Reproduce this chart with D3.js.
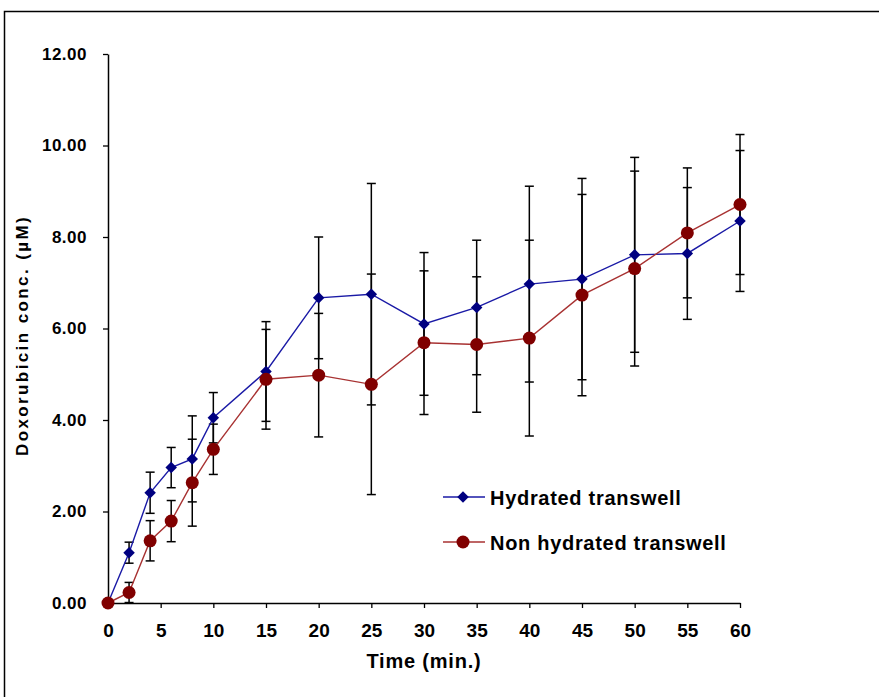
<!DOCTYPE html>
<html>
<head>
<meta charset="utf-8">
<script src="https://cdn.jsdelivr.net/npm/d3@7"></script>
<style>
  html, body { margin: 0; padding: 0; background: #fff; }
  svg { display: block; }
  text { font-family: "Liberation Sans", Arial, sans-serif; font-weight: bold; fill: #000; }
</style>
</head>
<body>
<svg id="chart" width="879" height="697"></svg>
<script>
// Sampling times (min)
const times = [0, 2, 4, 6, 8, 10, 15, 20, 25, 30, 35, 40, 45, 50, 55, 60];

// Doxorubicin concentration (µM), mean and standard deviation per time point
const hydratedMean = [0, 1.10, 2.41, 2.96, 3.15, 4.05, 5.06, 6.67, 6.75, 6.10, 6.46, 6.97, 7.08, 7.61, 7.64, 8.35];
const hydratedSD   = [0, 0.23, 0.45, 0.44, 0.94, 0.55, 1.09, 1.33, 2.42, 1.56, 1.47, 2.14, 2.20, 2.13, 1.44, 1.54];

const nonHydratedMean = [0, 0.23, 1.36, 1.79, 2.63, 3.36, 4.89, 4.98, 4.78, 5.69, 5.65, 5.79, 6.73, 7.31, 8.09, 8.71];
const nonHydratedSD   = [0, 0.22, 0.44, 0.45, 0.95, 0.55, 1.09, 1.35, 2.41, 1.57, 1.48, 2.14, 2.20, 2.13, 1.42, 1.53];

const xTicks = [0, 5, 10, 15, 20, 25, 30, 35, 40, 45, 50, 55, 60];
const yTicks = [0, 2, 4, 6, 8, 10, 12];

const seriesNames = ["Hydrated transwell", "Non hydrated transwell"];

// diamond = square turned 45°, circle for the second series
const diamond = d3.symbol().type(d3.symbolSquare).size(66);
const circle = d3.symbol().type(d3.symbolCircle).size(133);

const series = [
  { name: seriesNames[0], mean: hydratedMean, sd: hydratedSD, line: "#1a1aa6", fill: "#000080", shape: diamond, rot: 45 },
  { name: seriesNames[1], mean: nonHydratedMean, sd: nonHydratedSD, line: "#a83232", fill: "#800000", shape: circle, rot: 0 }
];

const svg = d3.select("#chart");

// outer frame
svg.append("rect")
  .attr("x", 4.5).attr("y", 11.5)
  .attr("width", 1000).attr("height", 1000)
  .attr("fill", "none").attr("stroke", "#000").attr("stroke-width", 1.5);

const x = d3.scaleLinear().domain([0, 60]).range([108, 740]);
const y = d3.scaleLinear().domain([0, 12]).range([603, 54]);

// x axis
const xAxis = svg.append("g")
  .attr("transform", `translate(0,${y(0)})`)
  .call(d3.axisBottom(x).tickValues(xTicks).tickFormat(d3.format("d")).tickSize(5).tickSizeOuter(0).tickPadding(16));
xAxis.select(".domain").attr("stroke", "#000").attr("stroke-width", 1.5);
xAxis.selectAll(".tick line").attr("stroke", "#000").attr("stroke-width", 1.3);
xAxis.selectAll(".tick text")
  .attr("font-size", 19).attr("font-family", "Liberation Sans, Arial, sans-serif").attr("font-weight", "bold");

// y axis
const yAxis = svg.append("g")
  .attr("transform", `translate(${x(0)},0)`)
  .call(d3.axisLeft(y).tickValues(yTicks).tickFormat(d3.format(".2f")).tickSize(5).tickSizeOuter(0).tickPadding(16));
yAxis.select(".domain").attr("stroke", "#000").attr("stroke-width", 1.5);
yAxis.selectAll(".tick line").attr("stroke", "#000").attr("stroke-width", 1.3);
yAxis.selectAll(".tick text")
  .attr("font-size", 17).attr("font-family", "Liberation Sans, Arial, sans-serif").attr("font-weight", "bold")
  .attr("letter-spacing", 0.5);

// axis titles
svg.append("text")
  .attr("x", 424).attr("y", 668)
  .attr("text-anchor", "middle").attr("font-size", 20)
  .attr("letter-spacing", 0.8)
  .text("Time (min.)");

svg.append("text")
  .attr("transform", `translate(28,${(y(0) + y(12)) / 2 + 7}) rotate(-90)`)
  .attr("text-anchor", "middle").attr("font-size", 17)
  .attr("letter-spacing", 2.4)
  .text("Doxorubicin conc. (µM)");

const cap = 4.5;

// error bars
series.forEach(s => {
  const g = svg.append("g").attr("stroke", "#000").attr("stroke-width", 1.5);
  times.forEach((t, i) => {
    if (s.sd[i] <= 0) return;
    const cx = x(t);
    const top = y(s.mean[i] + s.sd[i]);
    const bot = y(Math.max(0, s.mean[i] - s.sd[i]));
    g.append("line").attr("x1", cx).attr("x2", cx).attr("y1", top).attr("y2", bot);
    g.append("line").attr("x1", cx - cap).attr("x2", cx + cap).attr("y1", top).attr("y2", top);
    g.append("line").attr("x1", cx - cap).attr("x2", cx + cap).attr("y1", bot).attr("y2", bot);
  });
});

// lines and markers
series.forEach(s => {
  const pts = times.map((t, i) => [t, s.mean[i]]);
  svg.append("path")
    .datum(pts)
    .attr("fill", "none")
    .attr("stroke", s.line)
    .attr("stroke-width", 1.4)
    .attr("d", d3.line().x(d => x(d[0])).y(d => y(d[1])));
  svg.append("g").selectAll("path")
    .data(pts)
    .join("path")
    .attr("transform", d => `translate(${x(d[0])},${y(d[1])}) rotate(${s.rot})`)
    .attr("d", s.shape())
    .attr("fill", s.fill);
});

// legend
const legend = svg.append("g");
series.forEach((s, i) => {
  const ly = 497 + i * 45;
  legend.append("line")
    .attr("x1", 443).attr("x2", 485).attr("y1", ly).attr("y2", ly)
    .attr("stroke", s.line).attr("stroke-width", 1.4);
  legend.append("path")
    .attr("transform", `translate(463,${ly}) rotate(${s.rot})`)
    .attr("d", s.shape())
    .attr("fill", s.fill);
  legend.append("text")
    .attr("x", 490).attr("y", ly + 7.5)
    .attr("font-size", 20)
    .attr("letter-spacing", 0.7)
    .text(s.name);
});
</script>
</body>
</html>
